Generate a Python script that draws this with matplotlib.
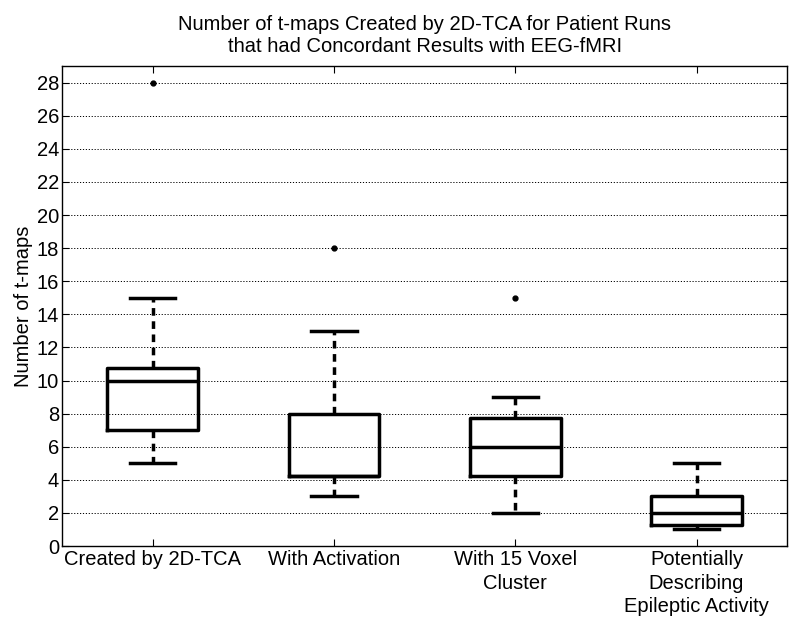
import matplotlib
matplotlib.use("Agg")
import matplotlib.pyplot as plt

plt.rcParams['font.family'] = ['Liberation Sans', 'DejaVu Sans']

# box plot summary values
categories = ["Created by 2D-TCA", "With Activation", "With 15 Voxel\nCluster",
              "Potentially\nDescribing\nEpileptic Activity"]
medians = [10, 4.25, 6, 2]
q1 = [7, 4.25, 4.25, 1.25]
q3 = [10.75, 8, 7.75, 3]
whisker_low = [5, 3, 2, 1]
whisker_high = [15, 13, 9, 5]
outliers = [[28], [18], [15], []]

stats = []
for i in range(len(categories)):
    stats.append({
        "med": medians[i], "q1": q1[i], "q3": q3[i],
        "whislo": whisker_low[i], "whishi": whisker_high[i],
        "fliers": outliers[i], "label": categories[i],
    })

fig = plt.figure(figsize=(8, 6.3), dpi=100)
ax = fig.add_axes([0.0775, 0.1333, 0.9065, 0.7617])

ax.bxp(stats, positions=[1, 2, 3, 4], widths=0.5,
       boxprops=dict(color="black", linewidth=2.5),
       medianprops=dict(color="black", linewidth=2.5),
       whiskerprops=dict(color="black", linewidth=2.5, linestyle=(0, (2.2, 1.6))),
       capprops=dict(color="black", linewidth=2.5),
       flierprops=dict(marker="o", markerfacecolor="black", markeredgecolor="black",
                       markersize=3.5))

ax.set_xlim(0.5, 4.5)
ax.set_ylim(0, 29)
ax.set_yticks(range(0, 29, 2))
ax.yaxis.grid(True, linestyle=(0, (1.2, 1.8)), color="black", linewidth=0.7)
ax.set_axisbelow(True)
ax.tick_params(direction="in", top=True, right=True, labelsize=14.5, length=5)
ax.tick_params(axis="x", pad=3)
ax.tick_params(axis="y", pad=2)
for lbl in ax.get_xticklabels():
    lbl.set_linespacing(1.3)
for s in ax.spines.values():
    s.set_linewidth(1.0)

ax.set_ylabel("Number of t-maps", fontsize=14.5, labelpad=3)
ax.set_title("Number of t-maps Created by 2D-TCA for Patient Runs\n"
             "that had Concordant Results with EEG-fMRI", fontsize=14.5, pad=10,
             linespacing=1.25)

fig.savefig("out.png", dpi=100)
